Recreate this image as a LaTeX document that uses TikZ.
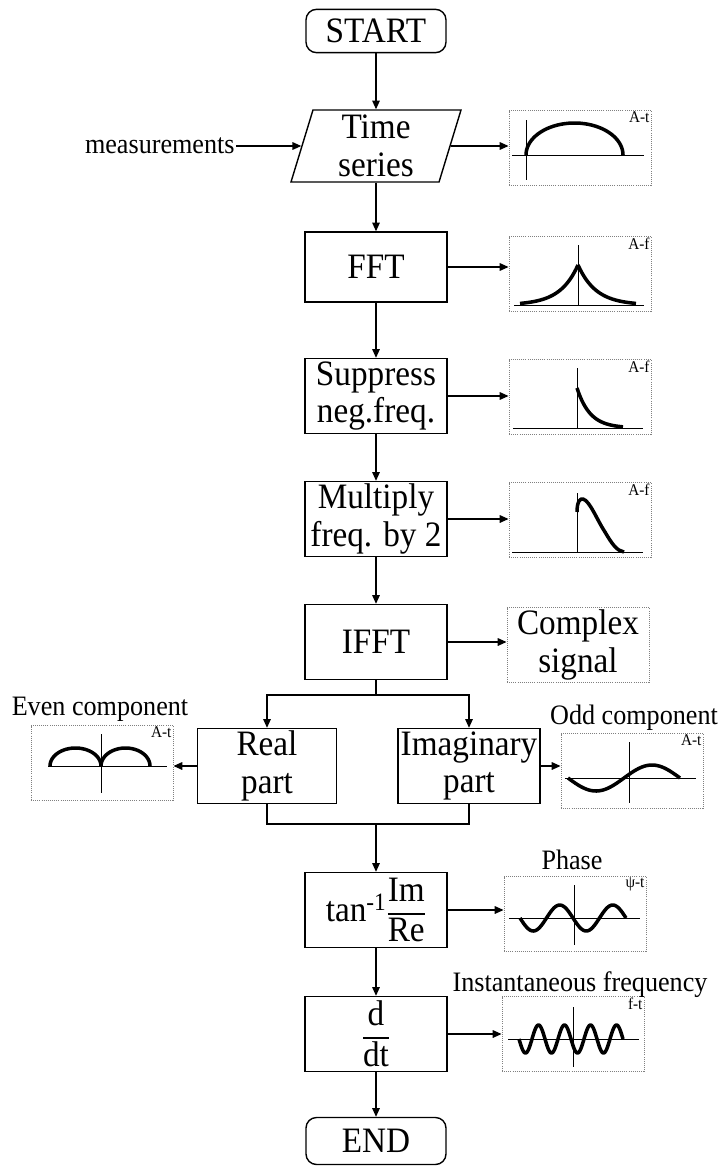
\documentclass[tikz,border=0pt]{standalone}
\usepackage{amsmath}
\usepackage{fontspec}
\setmainfont{Liberation Serif}[FakeStretch=0.93]
\usetikzlibrary{arrows.meta,shapes.geometric}
\begin{document}
\begin{tikzpicture}[x=0.03cm, y=-0.03cm,
  proc/.style={draw, line width=1.2pt, minimum width=4.26cm, minimum height=2.25cm, align=center, inner sep=1pt, font=\fontsize{30.5}{32}\selectfont},
  term/.style={proc, rounded corners=9pt, minimum width=4.2cm, minimum height=1.3cm},
  plotbox/.style={draw, gray, densely dotted, line width=0.8pt, minimum width=4.26cm, minimum height=2.25cm},
  note/.style={plotbox, text=black, align=center, inner sep=1pt, font=\fontsize{30.5}{32}\selectfont},
  tag/.style={anchor=north east, inner sep=1.5pt, font=\fontsize{14}{15}\selectfont},
  caption/.style={font=\fontsize{24}{26}\selectfont},
  arr/.style={-{Triangle[length=7.5pt,width=6.5pt]}, line width=1pt},
  axis/.style={line width=0.8pt},
  wave/.style={line width=3pt, line join=round}]
\useasboundingbox (0,0) rectangle (717,1173);

\node[term] (start) at (376,31) {START};
\node[proc, trapezium, trapezium left angle=71, trapezium right angle=109, trapezium stretches body, minimum width=5.1cm, minimum height=2.16cm] (ts) at (376,146) {Time\\series};
\node[caption, anchor=east, inner sep=1pt] (meas) at (236,146) {measurements};
\node[proc, minimum height=2.1cm] (fft) at (376,267) {FFT};
\node[proc] (sup) at (376,396) {Suppress\\neg.freq.};
\node[proc] (mul) at (376,519) {Multiply\\freq. by 2};
\node[proc] (ifft) at (376,642) {IFFT};
\node[proc, minimum width=4.17cm] (real) at (267,766) {Real\\part};
\node[proc] (imag) at (469,766) {Imaginary\\part};
\node[proc] (tanb) at (376,910) {$\text{tan}^{\text{-1}}\dfrac{\text{Im}}{\text{Re}}$};
\node[proc] (ddt) at (376,1034) {$\dfrac{\text{d}}{\text{dt}}$};
\node[term, minimum height=1.41cm] (stop) at (376,1141) {END};

\node[plotbox] (g1) at (580,148) {};
\node[plotbox] (g2) at (580,274) {};
\node[plotbox] (g3) at (580,397) {};
\node[plotbox] (g4) at (580,520) {};
\node[note] (cplx) at (578,645) {Complex\\signal};
\node[plotbox] (geven) at (102,763) {};
\node[plotbox] (godd) at (632,771) {};
\node[plotbox] (gph) at (575,914) {};
\node[plotbox] (gfr) at (573,1034) {};

\node[tag] (t1) at (g1.north east) {A-t};
\node[tag] (t2) at (g2.north east) {A-f};
\node[tag] (t3) at (g3.north east) {A-f};
\node[tag] (t4) at (g4.north east) {A-f};
\node[tag] (t5) at (geven.north east) {A-t};
\node[tag] (t6) at (godd.north east) {A-t};
\node[tag] (t7) at (gph.north east) {ψ-t};
\node[tag] (t8) at (gfr.north east) {f-t};

\node[caption] (evenlbl) at (100,709) {Even component};
\node[caption] (oddlbl) at (634,718) {Odd component};
\node[caption] (phaselbl) at (572,860) {Phase};
\node[caption] (instlbl) at (580,985) {Instantaneous frequency};

\coordinate (split) at (376,695);
\coordinate (join) at (376,824);

\draw[arr] (start.south) -- (start.south |- ts.top side);
\draw[arr] (meas.east) -- (ts.left side);
\draw[arr] (fft.north |- ts.bottom side) -- (fft.north);
\draw[arr] (fft) -- (sup);
\draw[arr] (sup) -- (mul);
\draw[arr] (mul) -- (ifft);
\draw[line width=1pt] (ifft) -- (split);
\draw[arr] (split) -| (real.north);
\draw[arr] (split) -| (imag.north);
\draw[line width=1pt] (real.south) |- (join) -| (imag.south);
\draw[arr] (join) -- (tanb);
\draw[arr] (tanb) -- (ddt);
\draw[arr] (ddt) -- (stop);

\draw[arr] (ts.right side) -- (ts.right side -| g1.west);
\draw[arr] (fft.east) -- (fft.east -| g2.west);
\draw[arr] (sup.east) -- (sup.east -| g3.west);
\draw[arr] (mul.east) -- (mul.east -| g4.west);
\draw[arr] (ifft.east) -- (ifft.east -| cplx.west);
\draw[arr] (real.west) -- (real.west -| geven.east);
\draw[arr] (imag.east) -- (imag.east -| godd.west);
\draw[arr] (tanb.east) -- (tanb.east -| gph.west);
\draw[arr] (ddt.east) -- (ddt.east -| gfr.west);

\begin{scope}[shift={(g1.center)}]
\draw[axis] (-68,7) -- (64,7) (-54,-28) -- (-54,32);
\draw[wave] plot[domain=180:360, samples=40] ({-5.5+48.5*cos(\x)}, {7+32*sin(\x)});
\end{scope}

\begin{scope}[shift={(g2.center)}]
\draw[axis] (-66,31) -- (64,31) (-2,-29) -- (-2,31);
\draw[wave] plot[domain=-58:0, samples=30] ({\x-2}, {31-40*exp(\x/18)});
\draw[wave] plot[domain=0:58, samples=30] ({\x-2}, {31-40*exp(-\x/18)});
\end{scope}

\begin{scope}[shift={(g3.center)}]
\draw[axis] (-67,31) -- (63,31) (-3,-29) -- (-3,31);
\draw[wave] plot[domain=0:46, samples=30] ({\x-3}, {31-40*exp(-\x/13)});
\end{scope}

\begin{scope}[shift={(g4.center)}]
\draw[axis] (-68,32) -- (63,32) (-3,-27) -- (-3,32);
\draw[wave] (-3,-8) .. controls (-3,-18) and (0,-22) .. (3,-21) .. controls (10,-19) and (17,0) .. (25,12) .. controls (32,24) and (37,31) .. (44,32);
\end{scope}

\begin{scope}[shift={(geven.center)}]
\draw[axis] (-54,3) -- (65,3) (-1,-29) -- (-1,30);
\draw[wave] plot[domain=180:360, samples=30] ({-26.5+25.5*cos(\x)}, {3+18*sin(\x)});
\draw[wave] plot[domain=180:360, samples=30] ({23.5+24.5*cos(\x)}, {3+18*sin(\x)});
\end{scope}

\begin{scope}[shift={(godd.center)}]
\draw[axis] (-67,7) -- (64,7) (-3,-29) -- (-3,32);
\draw[wave] plot[domain=-64:48, samples=60] (\x, {7+13*sin((\x+64)/112*360)});
\end{scope}

\begin{scope}[shift={(gph.center)}]
\draw[axis] (-66,4) -- (65,4) (-1,-29) -- (-1,31);
\draw[wave] plot[domain=-55:51, samples=80] (\x, {4+13*sin((\x+55)/53*360)});
\end{scope}

\begin{scope}[shift={(gfr.center)}]
\draw[axis] (-65,5) -- (66,5) (0,-27) -- (0,33);
\draw[wave] plot[domain=-54:50, samples=150] (\x, {5+14*sin((\x+54)/26*360)});
\end{scope}
\end{tikzpicture}
\end{document}
